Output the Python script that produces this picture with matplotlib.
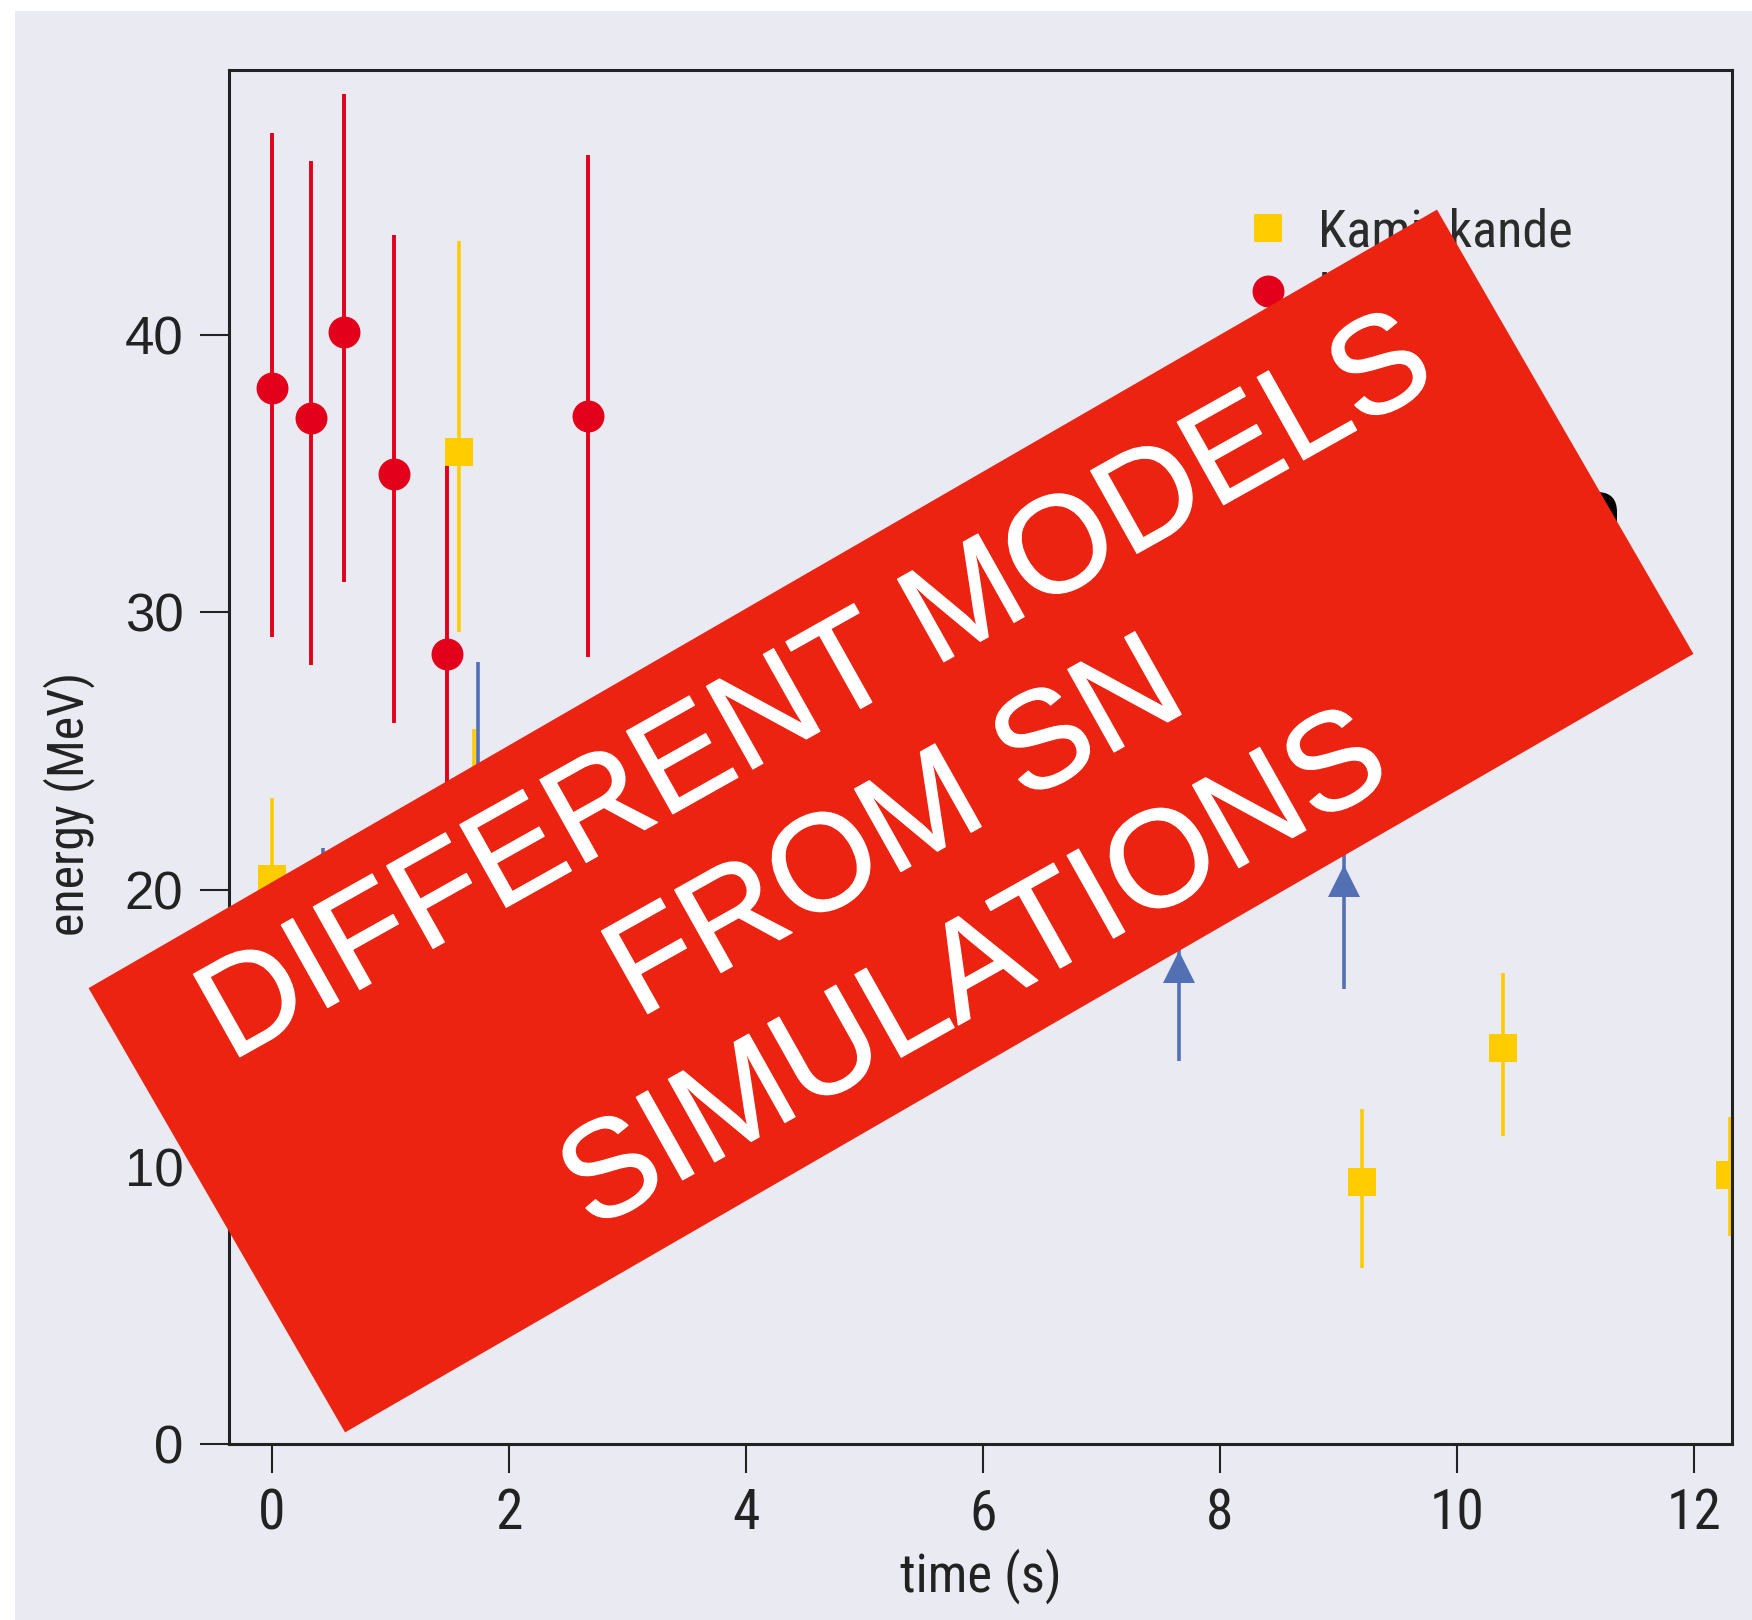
import numpy as np
import matplotlib.pyplot as plt
import matplotlib.patheffects as pe
from matplotlib import font_manager
from matplotlib.patches import Polygon, Rectangle, FancyBboxPatch

# SN1987A neutrino events
kam_t = [0.0, 0.107, 0.303, 0.324, 0.507, 0.686, 1.58, 1.71, 1.915, 9.20, 10.39, 12.30]
kam_e = [20.4, 13.5, 7.5, 9.2, 12.8, 6.3, 35.8, 21.5, 19.8, 9.45, 14.3, 9.7]
kam_lo = [2.9, 3.2, 2.0, 2.7, 2.9, 1.7, 6.5, 4.3, 3.2, 3.1, 3.2, 2.2]
kam_hi = [2.9, 3.2, 2.0, 2.7, 2.9, 1.7, 7.6, 4.3, 3.2, 2.65, 2.7, 2.1]

imb_t = [0.0, 0.33, 0.61, 1.03, 1.48, 2.67, 5.01, 5.58]
imb_e = [38.1, 37.0, 40.1, 35.0, 28.5, 37.1, 19.0, 22.0]
imb_lo = [9.0, 8.9, 9.0, 9.0, 6.8, 8.7, 5.0, 5.0]
imb_hi = [9.2, 9.3, 8.6, 8.6, 6.8, 9.4, 5.0, 5.0]

bak_t = [0.0, 0.43, 1.74, 7.655, 9.05]
bak_e = [12.0, 17.9, 23.5, 17.2, 20.3]
bak_err = [2.4, 3.6, 4.7, 3.4, 3.9]

x_ticks = [0, 2, 4, 6, 8, 10, 12]
y_ticks = [0, 10, 20, 30, 40]

banner_text = "DIFFERENT MODELS\nFROM SN\nSIMULATIONS"


def pick_font(names):
    # first family that is really installed
    for n in names:
        try:
            font_manager.findfont(font_manager.FontProperties(family=n), fallback_to_default=False)
            return n
        except Exception:
            pass
    return 'DejaVu Sans'


f_reg = pick_font(['Liberation Sans', 'Arial', 'Roboto', 'Open Sans', 'Noto Sans'])
f_nar = pick_font(['Liberation Sans Narrow', 'Arial Narrow', 'Roboto Condensed', 'Liberation Sans', 'Roboto'])

bg = '#EAEAF2'
col_kam = '#FFCC00'
col_imb = '#E2001A'
col_bak = '#5470B5'
col_banner = '#EC2310'

W, H = 1752, 1620
fig = plt.figure(figsize=(W / 100, H / 100), dpi=100, facecolor='white')

# lavender page with thin white border top/left
fig.add_artist(Rectangle((15 / W, 0), 1, 1 - 11 / H, transform=fig.transFigure,
                         facecolor=bg, edgecolor='none', zorder=-5))

ax = fig.add_axes([229 / W, 1 - 1444 / H, (1732 - 229) / W, (1444 - 70) / H])
ax.set_facecolor(bg)

k = ax.errorbar(kam_t, kam_e, yerr=[kam_lo, kam_hi], fmt='s', color=col_kam, ms=20,
                mew=0, elinewidth=2.6, capsize=0)
i = ax.errorbar(imb_t, imb_e, yerr=[imb_lo, imb_hi], fmt='o', color=col_imb, ms=23,
                mew=0, elinewidth=2.8, capsize=0)
b = ax.errorbar(bak_t, bak_e, yerr=bak_err, fmt='^', color=col_bak, ms=23,
                mew=0, elinewidth=2.6, capsize=0)

ax.set_xlim(-0.36, 12.32)
ax.set_ylim(0, 49.57)
ax.set_xticks(x_ticks)
ax.set_yticks(y_ticks)
ax.set_xticklabels([str(v) for v in x_ticks], family=f_nar, fontsize=40)
ax.set_yticklabels([str(v) for v in y_ticks], family=f_reg, fontsize=38)
ax.tick_params(direction='out', length=21, width=1.5, colors='#222222')
ax.tick_params(axis='y', pad=12)
ax.tick_params(axis='x', pad=10)
for s in ax.spines.values():
    s.set_linewidth(2.2)
    s.set_color('#222222')

ax.set_xlabel('time (s)', family=f_nar, fontsize=38, color='#222222', va='center')
ax.xaxis.set_label_coords(0.5, -0.096)
ax.set_ylabel('energy (MeV)', family=f_nar, fontsize=36, color='#222222', va='center')
ax.yaxis.set_label_coords(-0.1065, 0.466)

leg = ax.legend([k[0], i[0], b[0]], ['Kamiokande', 'IMB', 'Baksan'],
                loc='upper left', bbox_to_anchor=(0.674, 0.90), frameon=False,
                handlelength=1.0, handletextpad=0.45, borderpad=0, borderaxespad=0,
                labelspacing=0.25, prop={'family': f_nar, 'size': 37.5})
for t in leg.get_texts():
    t.set_color('#2b2b2b')

# overlay in pixel coordinates for the banner
ov = fig.add_axes([0, 0, 1, 1])
ov.set_xlim(0, W)
ov.set_ylim(H, 0)
ov.axis('off')
ov.patch.set_visible(False)

# black rounded box peeking out from behind the banner
ov.add_patch(FancyBboxPatch((1480, 492), 137, 200, boxstyle='round,pad=0,rounding_size=20',
                            facecolor='black', edgecolor='none', zorder=1))

cx, cy, L, Wd, ang = 891, 821, 1557, 513, np.deg2rad(30)
u = np.array([np.cos(ang), -np.sin(ang)])
v = np.array([np.sin(ang), np.cos(ang)])
c = np.array([cx, cy])
corners = [c - u * L / 2 - v * Wd / 2, c + u * L / 2 - v * Wd / 2,
           c + u * L / 2 + v * Wd / 2, c - u * L / 2 + v * Wd / 2]
ov.add_patch(Polygon(corners, closed=True, facecolor=col_banner, edgecolor='none', zorder=2))
ov.text(897, 833, banner_text, rotation=29.3, rotation_mode='anchor', ha='center', va='center',
        multialignment='center', color='white', fontsize=99, family=f_reg,
        linespacing=1.33, zorder=3,
        path_effects=[pe.withStroke(linewidth=1.0, foreground='white')])

fig.savefig('out.png', dpi=100, facecolor=fig.get_facecolor())
